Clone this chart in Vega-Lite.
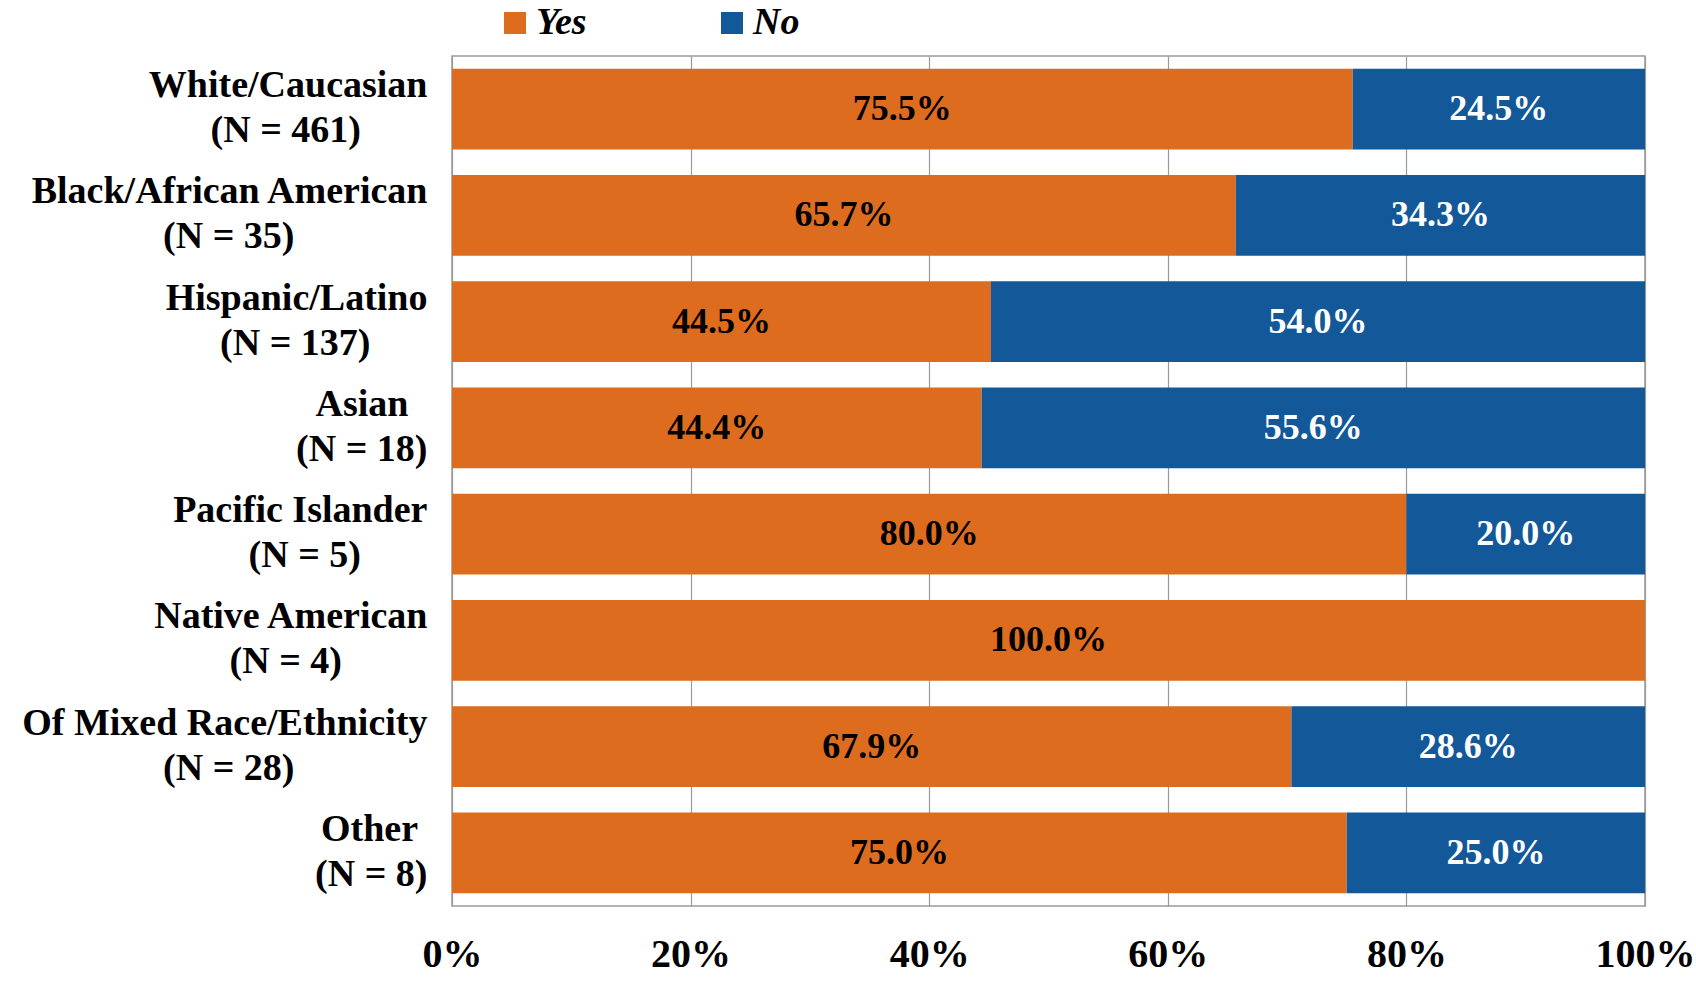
{
  "$schema": "https://vega.github.io/schema/vega-lite/v6.json",
  "width": 1193,
  "height": 850,
  "autosize": {"type": "none"},
  "padding": {"left": 452, "top": 56, "right": 51, "bottom": 75},
  "background": "white",
  "config": {
    "view": {"stroke": "#9a9a9a", "strokeWidth": 1.5},
    "font": "Liberation Serif"
  },
  "data": {
    "values": [
      {"race": "White/Caucasian|(N = 461)\u00a0\u00a0\u00a0\u00a0\u00a0\u00a0\u00a0\u200b", "answer": "Yes", "pct": 0.755},
      {"race": "White/Caucasian|(N = 461)\u00a0\u00a0\u00a0\u00a0\u00a0\u00a0\u00a0\u200b", "answer": "No", "pct": 0.245},
      {"race": "Black/African American|(N = 35)\u00a0\u00a0\u00a0\u00a0\u00a0\u00a0\u00a0\u00a0\u00a0\u00a0\u00a0\u00a0\u00a0\u00a0\u200b", "answer": "Yes", "pct": 0.657},
      {"race": "Black/African American|(N = 35)\u00a0\u00a0\u00a0\u00a0\u00a0\u00a0\u00a0\u00a0\u00a0\u00a0\u00a0\u00a0\u00a0\u00a0\u200b", "answer": "No", "pct": 0.343},
      {"race": "Hispanic/Latino|(N = 137)\u00a0\u00a0\u00a0\u00a0\u00a0\u00a0\u200b", "answer": "Yes", "pct": 0.445},
      {"race": "Hispanic/Latino|(N = 137)\u00a0\u00a0\u00a0\u00a0\u00a0\u00a0\u200b", "answer": "No", "pct": 0.54},
      {"race": "Asian\u00a0\u00a0\u200b|(N = 18)", "answer": "Yes", "pct": 0.444},
      {"race": "Asian\u00a0\u00a0\u200b|(N = 18)", "answer": "No", "pct": 0.556},
      {"race": "Pacific Islander|(N = 5)\u00a0\u00a0\u00a0\u00a0\u00a0\u00a0\u00a0\u200b", "answer": "Yes", "pct": 0.8},
      {"race": "Pacific Islander|(N = 5)\u00a0\u00a0\u00a0\u00a0\u00a0\u00a0\u00a0\u200b", "answer": "No", "pct": 0.2},
      {"race": "Native American|(N = 4)\u00a0\u00a0\u00a0\u00a0\u00a0\u00a0\u00a0\u00a0\u00a0\u200b", "answer": "Yes", "pct": 1.0},
      {"race": "Of Mixed Race/Ethnicity|(N = 28)\u00a0\u00a0\u00a0\u00a0\u00a0\u00a0\u00a0\u00a0\u00a0\u00a0\u00a0\u00a0\u00a0\u00a0\u200b", "answer": "Yes", "pct": 0.679},
      {"race": "Of Mixed Race/Ethnicity|(N = 28)\u00a0\u00a0\u00a0\u00a0\u00a0\u00a0\u00a0\u00a0\u00a0\u00a0\u00a0\u00a0\u00a0\u00a0\u200b", "answer": "No", "pct": 0.286},
      {"race": "Other\u00a0\u200b|(N = 8)", "answer": "Yes", "pct": 0.75},
      {"race": "Other\u00a0\u200b|(N = 8)", "answer": "No", "pct": 0.25}
    ]
  },
  "transform": [
    {"stack": "pct", "groupby": ["race"], "sort": [{"field": "answer", "order": "descending"}], "offset": "normalize", "as": ["s0", "s1"]}
  ],
  "encoding": {
    "y": {
      "field": "race",
      "type": "nominal",
      "sort": [
        "White/Caucasian|(N = 461)\u00a0\u00a0\u00a0\u00a0\u00a0\u00a0\u00a0\u200b",
        "Black/African American|(N = 35)\u00a0\u00a0\u00a0\u00a0\u00a0\u00a0\u00a0\u00a0\u00a0\u00a0\u00a0\u00a0\u00a0\u00a0\u200b",
        "Hispanic/Latino|(N = 137)\u00a0\u00a0\u00a0\u00a0\u00a0\u00a0\u200b",
        "Asian\u00a0\u00a0\u200b|(N = 18)",
        "Pacific Islander|(N = 5)\u00a0\u00a0\u00a0\u00a0\u00a0\u00a0\u00a0\u200b",
        "Native American|(N = 4)\u00a0\u00a0\u00a0\u00a0\u00a0\u00a0\u00a0\u00a0\u00a0\u200b",
        "Of Mixed Race/Ethnicity|(N = 28)\u00a0\u00a0\u00a0\u00a0\u00a0\u00a0\u00a0\u00a0\u00a0\u00a0\u00a0\u00a0\u00a0\u00a0\u200b",
        "Other\u00a0\u200b|(N = 8)"
      ],
      "scale": {"paddingInner": 0.24, "paddingOuter": 0.12},
      "axis": {
        "title": null,
        "ticks": false,
        "domain": false,
        "labelExpr": "split(datum.label, '|')",
        "labelFont": "Liberation Serif",
        "labelFontWeight": "bold",
        "labelFontSize": 38,
        "labelLineHeight": 45,
        "labelOffset": -23,
        "labelColor": "black",
        "labelPadding": 25,
        "labelLimit": 0
      }
    }
  },
  "layer": [
    {
      "mark": {"type": "bar"},
      "encoding": {
        "x": {
          "field": "s0",
          "type": "quantitative",
          "scale": {"domain": [0, 1]},
          "axis": {
            "title": null,
            "values": [0, 0.2, 0.4, 0.6, 0.8, 1],
            "format": ".0%",
            "grid": true,
            "gridColor": "#9a9a9a",
            "gridWidth": 1.2,
            "ticks": false,
            "domain": false,
            "labelFont": "Liberation Serif",
            "labelFontWeight": "bold",
            "labelFontSize": 40,
            "labelColor": "black",
            "labelPadding": 28,
            "labelFlush": false
          }
        },
        "x2": {"field": "s1"},
        "color": {
          "field": "answer",
          "type": "nominal",
          "scale": {"domain": ["Yes", "No"], "range": ["#DD6C1E", "#135899"]},
          "legend": {
            "title": null,
            "orient": "none",
            "direction": "horizontal",
            "legendX": 44,
            "legendY": -52,
            "padding": 0,
            "symbolType": "square",
            "symbolSize": 484,
            "symbolStrokeWidth": 0,
            "symbolOpacity": 1,
            "labelFont": "Liberation Serif",
            "labelFontWeight": "bold",
            "labelFontStyle": "italic",
            "labelFontSize": 38,
            "labelColor": "black",
            "labelOffset": 2,
            "columnPadding": 126
          }
        }
      }
    },
    {
      "transform": [
        {"fold": ["s0", "s1"], "as": ["edge", "pos"]},
        {"aggregate": [{"op": "mean", "field": "pos", "as": "mid"}], "groupby": ["race", "answer", "pct"]}
      ],
      "mark": {"type": "text", "font": "Liberation Serif", "fontWeight": "bold", "fontSize": 36, "baseline": "middle", "align": "center"},
      "encoding": {
        "x": {"field": "mid", "type": "quantitative"},
        "text": {"field": "pct", "type": "quantitative", "format": ".1%"},
        "color": {
          "condition": {"test": "datum.answer === 'No'", "value": "white"},
          "value": "black"
        }
      }
    }
  ]
}
